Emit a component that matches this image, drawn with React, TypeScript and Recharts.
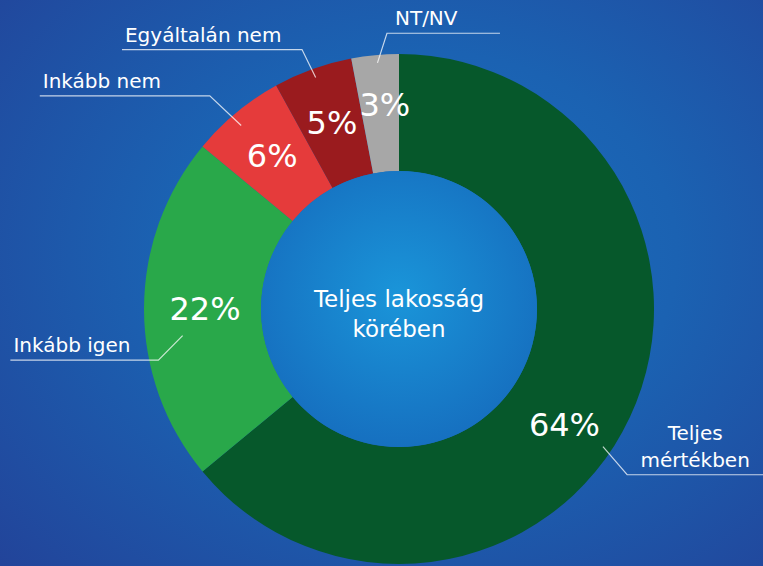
import { PieChart, Pie, Cell, Label } from 'recharts'

const categories = ['Teljes mértékben', 'Inkább igen', 'Inkább nem', 'Egyáltalán nem', 'NT/NV']
const shares = [64, 22, 6, 5, 3]
const sliceColors = ['#06582b', '#29a84a', '#e53b3b', '#9a1b1e', '#a7a7a7']
const centerTitle = ['Teljes lakosság', 'körében']

const data = categories.map((name, i) => ({ name, value: shares[i] }))

const CX = 399
const CY = 309

// label placement per slice: angles in degrees clockwise, relative to slice middle
const callouts = [
  { pctShift: 9.8, pctR: 202, s0: 8.8, r0: 246, s1: 10.8, r1: 282, len: 136, lines: ['Teljes', 'mértékben'] },
  { pctShift: 0, pctR: 194, s0: -7, r0: 218, s1: -12, r1: 246, len: -148, lines: ['Inkább igen'] },
  { pctShift: 0, pctR: 199, s0: -1.1, r0: 242, s1: -2, r1: 285, len: -170, lines: ['Inkább nem'] },
  { pctShift: 0, pctR: 198, s0: 0, r0: 246, s1: -0.7, r1: 277, len: -180, lines: ['Egyáltalán nem'] },
  { pctShift: 1.4, pctR: 204, s0: 0.4, r0: 247, s1: 2.9, r1: 276, len: 113, lines: ['NT/NV'] },
]

const RAD = Math.PI / 180
const FONT = '"DejaVu Sans", "Open Sans", sans-serif'

// theta = clockwise from 12 o'clock
const pt = (cx: number, cy: number, r: number, theta: number) => ({
  x: cx + r * Math.sin(theta * RAD),
  y: cy - r * Math.cos(theta * RAD),
})

const renderSliceLabel = (props: any) => {
  const { cx, cy, midAngle, index, value } = props
  const c = callouts[index]
  const mid = 90 - midAngle
  const p = pt(cx, cy, c.pctR, mid + c.pctShift)
  const a = pt(cx, cy, c.r0, mid + c.s0)
  const b = pt(cx, cy, c.r1, mid + c.s1)
  const endX = b.x + c.len
  let text
  if (c.lines.length > 1) {
    const tx = b.x + c.len / 2
    text = (
      <text x={tx} y={b.y - 35} textAnchor="middle" fill="#fff" fontSize={20} fontFamily={FONT}>
        <tspan x={tx} dy={0}>{c.lines[0]}</tspan>
        <tspan x={tx} dy={27}>{c.lines[1]}</tspan>
      </text>
    )
  } else {
    const tx = c.len < 0 ? endX + 3 : b.x + 8
    text = (
      <text x={tx} y={b.y - 8} textAnchor="start" fill="#fff" fontSize={20} fontFamily={FONT}>
        {c.lines[0]}
      </text>
    )
  }
  return (
    <g key={`lbl-${index}`}>
      <polyline
        points={`${a.x},${a.y} ${b.x},${b.y} ${endX},${b.y}`}
        fill="none"
        stroke="rgba(255,255,255,0.75)"
        strokeWidth={1.2}
      />
      {text}
      <text
        x={p.x}
        y={p.y}
        textAnchor="middle"
        dominantBaseline="central"
        fill="#fff"
        fontSize={32}
        fontFamily={FONT}
      >
        {`${value}%`}
      </text>
    </g>
  )
}

const CenterText = () => (
  <text x={CX} y={CY} textAnchor="middle" fill="#fff" fontSize={23} fontFamily={FONT}>
    <tspan x={CX} dy={-2}>{centerTitle[0]}</tspan>
    <tspan x={CX} dy={30}>{centerTitle[1]}</tspan>
  </text>
)

export default function App() {
  return (
    <div
      style={{
        position: 'absolute',
        left: 0,
        top: 0,
        width: 763,
        height: 566,
        overflow: 'hidden',
        background: 'radial-gradient(ellipse 75% 80% at 55% 45%, #1a6fbe 0%, #1b62b2 45%, #22449a 100%)',
      }}
    >
      <PieChart width={763} height={566} margin={{ top: 0, right: 0, bottom: 0, left: 0 }}>
        <defs>
          <radialGradient id="innerFill" cx="50%" cy="45%" r="55%">
            <stop offset="0%" stopColor="#1a95d9" />
            <stop offset="100%" stopColor="#1670c0" />
          </radialGradient>
        </defs>
        <Pie
          data={data}
          dataKey="value"
          nameKey="name"
          cx={CX}
          cy={CY}
          innerRadius={138}
          outerRadius={255}
          startAngle={90}
          endAngle={-270}
          stroke="none"
          label={renderSliceLabel}
          labelLine={false}
          isAnimationActive={false}
        >
          {data.map((d, i) => (
            <Cell key={d.name} fill={sliceColors[i]} />
          ))}
        </Pie>
        <Pie
          data={[{ name: 'center', value: 1 }]}
          dataKey="value"
          cx={CX}
          cy={CY}
          innerRadius={0}
          outerRadius={138}
          stroke="none"
          fill="url(#innerFill)"
          isAnimationActive={false}
        >
          <Label position="center" content={<CenterText />} />
        </Pie>
      </PieChart>
    </div>
  )
}
